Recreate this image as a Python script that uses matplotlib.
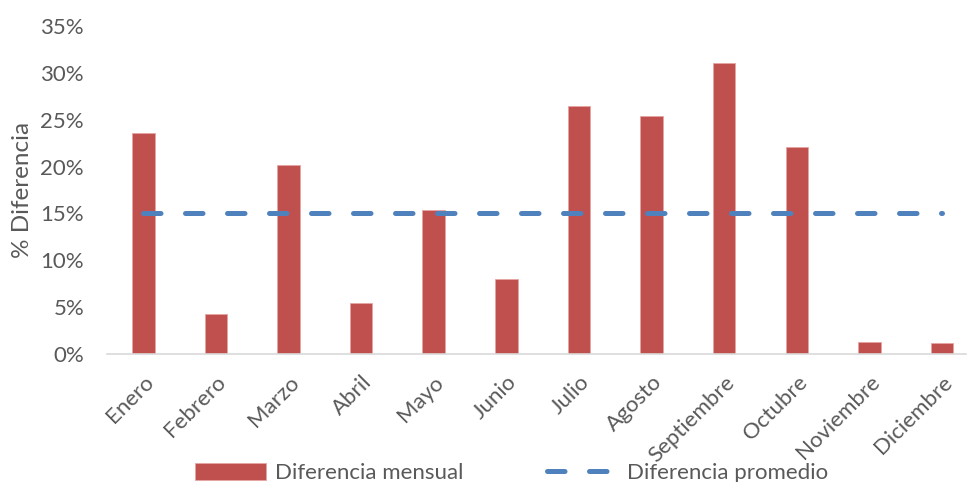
import matplotlib
matplotlib.use("Agg")
import matplotlib.pyplot as plt
from matplotlib.ticker import PercentFormatter

# datos
meses = ['Enero', 'Febrero', 'Marzo', 'Abril', 'Mayo', 'Junio', 'Julio',
         'Agosto', 'Septiembre', 'Octubre', 'Noviembre', 'Diciembre']
diferencia_mensual = [0.2355, 0.0424, 0.202, 0.054, 0.154, 0.0797, 0.265,
                      0.254, 0.311, 0.221, 0.0128, 0.012]
diferencia_promedio = [0.15] * 12
y_ticks = [0, 0.05, 0.10, 0.15, 0.20, 0.25, 0.30, 0.35]

plt.rcParams['font.family'] = ['Lato', 'DejaVu Sans']
gris = '#595959'

fig = plt.figure(figsize=(9.67, 4.82), dpi=100)
ax = fig.add_axes([107 / 967, 128 / 482, 859 / 967, 328 / 482])

x = list(range(len(meses)))
barras = ax.bar(x, diferencia_mensual, width=0.31, color='#C0504D',
                edgecolor='#E6A4A2', linewidth=0.6, label='Diferencia mensual', zorder=2)
linea, = ax.plot(x, diferencia_promedio, color='#4F81BD', linewidth=3.6,
                 dash_capstyle='round', label='Diferencia promedio', zorder=3)
linea.set_dashes([3.5, 4.9])

ax.set_xlim(-0.5, 11.33)
ax.set_ylim(0, 0.35)
ax.set_yticks(y_ticks)
ax.yaxis.set_major_formatter(PercentFormatter(1.0, decimals=0))
ax.set_xticks(x)
ax.set_xticklabels(meses, rotation=45, ha='right', va='top',
                   rotation_mode='anchor')

ax.tick_params(axis='y', length=0, pad=16.5, labelsize=16, labelcolor=gris)
ax.tick_params(axis='x', length=0, pad=13, labelsize=16, labelcolor=gris)

for lado in ['left', 'right', 'top']:
    ax.spines[lado].set_visible(False)
ax.spines['bottom'].set_color('#D9D9D9')
ax.spines['bottom'].set_linewidth(1.2)

ax.set_ylabel('% Diferencia', fontsize=17.5, color=gris)
ax.yaxis.set_label_coords(-0.086, 0.5)

fig.legend(handles=[barras, linea], loc='center', bbox_to_anchor=(0.529, 0.019),
           ncol=2, frameon=False, fontsize=16, labelcolor=gris,
           handlelength=3.2, handleheight=0.8, columnspacing=3.75, handletextpad=0.4)

fig.savefig('out.png', dpi=100)
